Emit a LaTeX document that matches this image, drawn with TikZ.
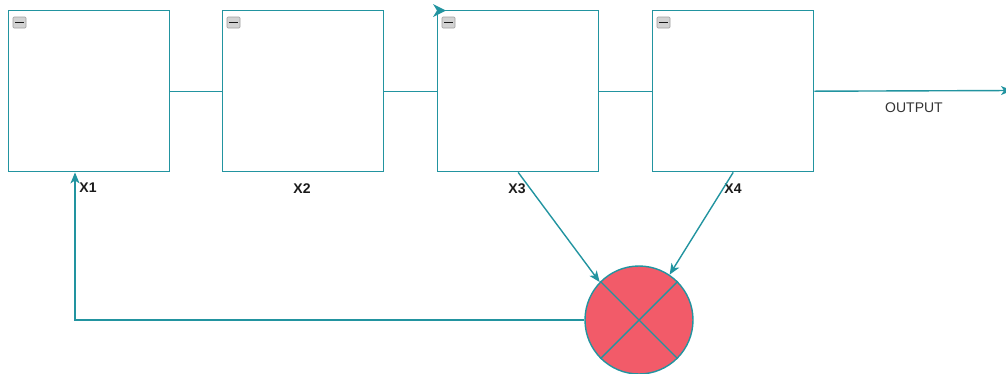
\documentclass[tikz,border=0pt]{standalone}
\usepackage{fontspec}
\setmainfont{Liberation Sans}
\usetikzlibrary{arrows.meta}
\definecolor{tealline}{HTML}{2294A0}
\definecolor{sumfill}{HTML}{F25B69}
\definecolor{labeltext}{HTML}{1A1A1A}
\definecolor{outtext}{HTML}{333333}
\tikzset{
  wire/.style={draw=tealline, line width=1.4pt},
  arr/.style={wire, -{Stealth[length=11pt, width=9pt, inset=3pt]}},
  block/.style={wire, rectangle, fill=white, minimum width=161pt, minimum height=161pt, inner sep=0pt, anchor=north west},
  junction/.style={wire, circle, fill=sumfill, minimum size=108pt, inner sep=0pt},
  lbl/.style={font=\bfseries\fontsize{14pt}{16pt}\selectfont, text=labeltext, inner sep=0pt},
  outlbl/.style={font=\fontsize{14pt}{16pt}\selectfont, text=outtext, inner sep=0pt},
  icon/.style={draw=gray!75, fill=gray!35, line width=0.6pt, rounded corners=1pt},
}
\begin{document}
\begin{tikzpicture}[x=1pt, y=-1pt]
\useasboundingbox (0,0) rectangle (1006,373);

% four stages of the chain
\node[block] (b1) at (8,10) {};
\node[block] (b2) at (222,10) {};
\node[block] (b3) at (437,10) {};
\node[block] (b4) at (652,10) {};

% collapse icons in the top-left corners
\foreach \i in {1,...,4} {
  \draw[icon] ([shift={(5,7)}]b\i.north west) rectangle ++(13,11);
  \draw[draw=gray!20!black, line width=1.4pt] ([shift={(7,12.5)}]b\i.north west) -- ++(9,0);
}

% stage labels
\node[lbl] (x1) at (88,188) {X1};
\node[lbl] (x2) at (302,189) {X2};
\node[lbl] (x3) at (517,189) {X3};
\node[lbl] (x4) at (733,189) {X4};
\node[outlbl] (outl) at (914,108) {OUTPUT};

% summing junction
\node[junction] (sum) at (639,320) {};
\draw[wire] (sum.north west) -- (sum.south east);
\draw[wire] (sum.north east) -- (sum.south west);

% links between stages
\draw[wire] (b1.east) -- (b2.west);
\draw[wire] (b2.east) -- (b3.west);
\draw[wire] (b3.east) -- (b4.west);
\coordinate (out) at (1012,90.5);
\draw[arr] (b4.east) -- (out);

% taps into the junction and feedback
\draw[arr] (b3.south) -- (sum.136);
\draw[arr] (b4.south) -- (sum.56);
\draw[arr] (sum.west) -| ([xshift=67pt]b1.south west);

% small arrow head on the third stage corner
\fill[tealline] (b3.north west) ++(9,0.5) -- ++(-13,-6.5) -- ++(4,6.5) -- ++(-4,6.5) -- cycle;
\end{tikzpicture}
\end{document}
